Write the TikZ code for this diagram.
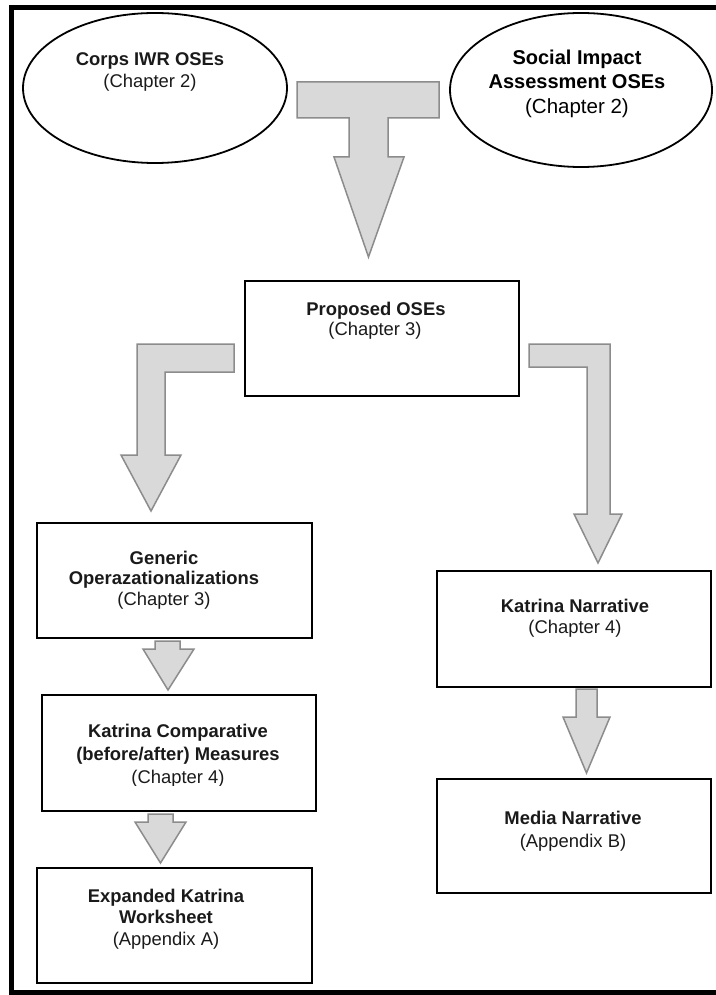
\documentclass[tikz,border=0pt]{standalone}
\usepackage{fontspec}
\setmainfont{Liberation Sans}
\usetikzlibrary{shapes.geometric}
\definecolor{arrowfill}{HTML}{D9D9D9}
\definecolor{arrowline}{HTML}{8C8C8C}
\definecolor{txt}{HTML}{1A1A1A}
\begin{document}
\begin{tikzpicture}[x=1pt,y=-1pt,
  box/.style={draw=black, line width=2.5pt, minimum width=274pt, minimum height=115pt, inner sep=0pt},
  oval/.style={ellipse, draw=black, line width=1.8pt, inner sep=0pt},
  barrow/.style={fill=arrowfill, draw=arrowline, line width=1.5pt, line join=miter},
  bt/.style={font=\fontsize{18.4}{22}\selectfont\bfseries, text=txt, anchor=base, inner sep=0pt},
  rt/.style={font=\fontsize{18.4}{22}\selectfont, text=txt, anchor=base, inner sep=0pt},
  bbt/.style={font=\fontsize{20}{24}\selectfont\bfseries, text=black, anchor=base, inner sep=0pt},
  brt/.style={font=\fontsize{20.5}{24}\selectfont, text=black, anchor=base, inner sep=0pt},
]
\useasboundingbox (0,0) rectangle (715,995);
\fill[white] (0,0) rectangle (715,995);

% outer frame (open on the right)
\draw[line width=5pt] (720,7.5) -- (11,7.5) -- (11,992.5) -- (720,992.5);

% source ellipses
\node[oval, minimum width=264pt, minimum height=150pt] (e1) at (155,88) {};
\node[oval, minimum width=262pt, minimum height=154pt] (e2) at (581,90) {};
\node[bt] (e1a) at (150,66) {Corps IWR OSEs};
\node[rt] (e1b) at (150,88) {(Chapter 2)};
\node[bbt] (e2a) at (577,65) {Social Impact};
\node[bbt] (e2b) at (577,89) {Assessment OSEs};
\node[brt] (e2c) at (577,114) {(Chapter 2)};

% boxes
\node[box] (prop) at (382,338.5) {};
\node[box, minimum width=275pt] (gen) at (174.5,580.5) {};
\node[box, minimum height=116pt] (comp) at (179,753) {};
\node[box, minimum width=275pt] (exp) at (174.5,925.5) {};
\node[box, minimum height=116pt] (narr) at (574,629) {};
\node[box, minimum height=114pt] (media) at (574,836) {};

% box texts
\node[bt] (p1) at (376,315) {Proposed OSEs};
\node[rt] (p2) at (375,335.5) {(Chapter 3)};

\node[bt] (g1) at (164,564) {Generic};
\node[bt] (g2) at (164,584.5) {Operazationalizations};
\node[rt] (g3) at (164,605) {(Chapter 3)};

\node[bt] (c1) at (178,737) {Katrina Comparative};
\node[bt] (c2) at (178,760) {(before/after) Measures};
\begin{scope}
  \clip (44,700) rectangle (314,785.5);
  \node[rt] (c3) at (178,783) {(Chapter 4)};
\end{scope}

\node[bt] (x1) at (166,902) {Expanded Katrina};
\node[bt] (x2) at (166,923) {Worksheet};
\node[rt] (x3) at (166,945) {(Appendix A)};

\node[bt] (n1) at (575,612) {Katrina Narrative};
\node[rt] (n2) at (575,633) {(Chapter 4)};

\node[bt] (m1) at (573,824) {Media Narrative};
\node[rt] (m2) at (573,847) {(Appendix B)};

% block arrows
\draw[barrow] (297,82) -- (439,82) -- (439,118) -- (388,118) -- (388,157) -- (404,157)
  -- (368.5,257) -- (334,157) -- (349,157) -- (349,118) -- (297,118) -- cycle;
\draw[barrow] (234,344) -- (137,344) -- (137,455) -- (121,455) -- (151,511) -- (181,455)
  -- (165,455) -- (165,372) -- (234,372) -- cycle;
\draw[barrow] (529,344) -- (610,344) -- (610,514) -- (622,514) -- (598,563) -- (574,514)
  -- (587,514) -- (587,367) -- (529,367) -- cycle;
\draw[barrow] (155,641) -- (180,641) -- (180,649) -- (194,649) -- (168,690) -- (143,649)
  -- (155,649) -- cycle;
\draw[barrow] (148,814) -- (173,814) -- (173,822) -- (186,822) -- (160.5,863) -- (135,822)
  -- (148,822) -- cycle;
\draw[barrow] (576,689) -- (597,689) -- (597,717) -- (610,717) -- (586.5,773) -- (563,717)
  -- (576,717) -- cycle;
\end{tikzpicture}
\end{document}
